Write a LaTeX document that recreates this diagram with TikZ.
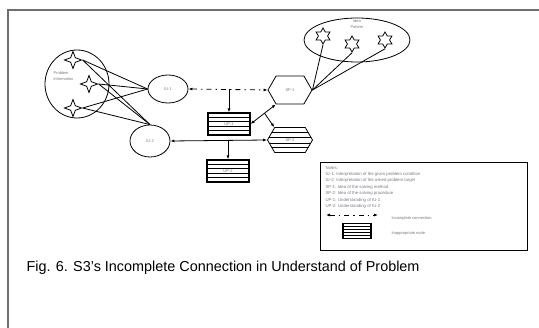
\documentclass[tikz,border=0pt]{standalone}
\usepackage{fontspec}
\setmainfont{Liberation Sans}
\usepackage{tikz}
\usetikzlibrary{shapes.geometric,shapes.symbols,arrows.meta,calc}
\definecolor{ColFrame}{RGB}{110,110,110}
\definecolor{ColLabel}{RGB}{120,120,130}
\tikzstyle{Tiny}=[font=\fontsize{4}{5.5}\selectfont,text=ColLabel]
\tikzstyle{InfoUnit}=[ellipse,draw,thick,minimum width=40pt,minimum height=28pt,inner sep=0pt,Tiny]
\tikzstyle{Cluster}=[ellipse,draw,thick,inner sep=0pt]
\tikzstyle{FourStar}=[star,star points=4,star point ratio=2.6,draw,thick,minimum size=17pt,inner sep=0pt]
\tikzstyle{SixStar}=[star,star points=6,star point ratio=1.75,draw,thick,minimum size=16pt,inner sep=0pt]
\tikzstyle{Stripes}=[path picture={\foreach \f in {0.2,0.38,0.62,0.8}{\draw ($(path picture bounding box.north west)!\f!(path picture bounding box.south west)$)--++(3cm,0);}}]
\tikzstyle{PlanHex}=[signal,signal to=west and east,signal pointer angle=120,draw,thick,minimum width=44pt,minimum height=28pt,inner sep=0pt,Tiny]
\tikzstyle{UnderBox}=[rectangle,draw,very thick,Stripes,minimum width=42pt,minimum height=22pt,inner sep=0pt,Tiny]
\tikzstyle{EdgeLink}=[thick]
\tikzstyle{EdgeArrow}=[thick,-{Latex[length=4pt,width=3pt]}]
\tikzstyle{EdgeBoth}=[thick,{Latex[length=4pt,width=3pt]}-{Latex[length=4pt,width=3pt]}]
\tikzstyle{EdgeDash}=[EdgeBoth,dash pattern=on 5pt off 4pt on 1.5pt off 4pt]
\begin{document}
\begin{tikzpicture}[x=1pt,y=-1pt]
        \useasboundingbox(0,0)rectangle(539,328);
        \draw[ColFrame,line width=1.5pt](8,328)--(8,10)--(539,10);
        % problem side
        \node[Cluster,minimum width=64pt,minimum height=68pt](Prob)at(77,84){};
        \node[Tiny,align=left,anchor=west](ProbText)at(50,76){Problem\\information};
        \node[FourStar](PS1)at(73,60){};
        \node[FourStar](PS2)at(89,84){};
        \node[FourStar](PS3)at(73,108){};
        \node[InfoUnit](IU1)at(168,89){IU-1};
        \node[InfoUnit,minimum height=32pt](IU2)at(150,141){IU-2};
        \foreach \s in {PS1,PS2,PS3}{
            \draw[EdgeLink](\s.east)--(IU1.west);
            \draw[EdgeLink](\s.east)--(IU2.north);}
        % idea side
        \node[Cluster,minimum width=106pt,minimum height=44pt](Idea)at(357,40){};
        \node[Tiny,align=center](IdeaText)at(357,24){Idea\\Pattern};
        \node[SixStar](IS1)at(323,36){};
        \node[SixStar](IS2)at(352,44){};
        \node[SixStar](IS3)at(385,40){};
        \node[PlanHex](SP1)at(290,90){SP-1};
        \foreach \s in {IS1,IS2,IS3}
            \draw[EdgeLink](\s.south)--(SP1.east);
        % understanding
        \node[UnderBox](UP1)at(229,124){UP-1};
        \node[UnderBox](UP2)at(228,171){UP-2};
        \node[PlanHex,Stripes,minimum width=45pt,minimum height=25pt](SP2)at(290,140){SP-2};
        \coordinate(DropA)at(UP1.north|-IU1.east);
        \coordinate(DropB)at(UP2.north|-IU2.east);
        \draw[EdgeDash](IU1.east)--(SP1.west);
        \draw[EdgeArrow](DropA)--(UP1.north);
        \draw[EdgeBoth](IU2.east)--(SP2.west);
        \draw[EdgeArrow](DropB)--(UP2.north);
        \draw[EdgeBoth](UP1.east)--coordinate[pos=.55](Branch)(SP1.south west);
        \draw[EdgeArrow](Branch)--(SP2.north west);
        % legend
        \node[draw,line width=1pt,minimum width=207pt,minimum height=88pt,anchor=north west](Legend)at(320,162){};
        \node[Tiny,align=left,anchor=north west,font=\fontsize{4.3}{6.2}\selectfont](Notes)at(322,163){Notes:\\
            IU-1: Interpretation of the given problem condition\\
            IU-2: Interpretation of the asked problem target\\
            SP-1: Idea of the solving method\\
            SP-2: Idea of the solving procedure\\[1pt]
            UP-1: Understanding of IU-1\\
            UP-2: Understanding of IU-2};
        \coordinate(KeyA)at(326,215);
        \coordinate(KeyB)at(378,215);
        \draw[EdgeDash](KeyA)--(KeyB);
        \node[Tiny,anchor=west](KeyDashText)at(388,218){Incomplete connection};
        \node[UnderBox,minimum width=28pt,minimum height=15pt](KeyBox)at(357,231){};
        \node[Tiny,anchor=west](KeyBoxText)at(388,233){Inappropriate node};
        % caption
        \node[anchor=west,font=\fontsize{14.4}{17}\selectfont](Caption)at(23,268){Fig. 6. S3's Incomplete Connection in Understand of Problem};
\end{tikzpicture}
\end{document}
